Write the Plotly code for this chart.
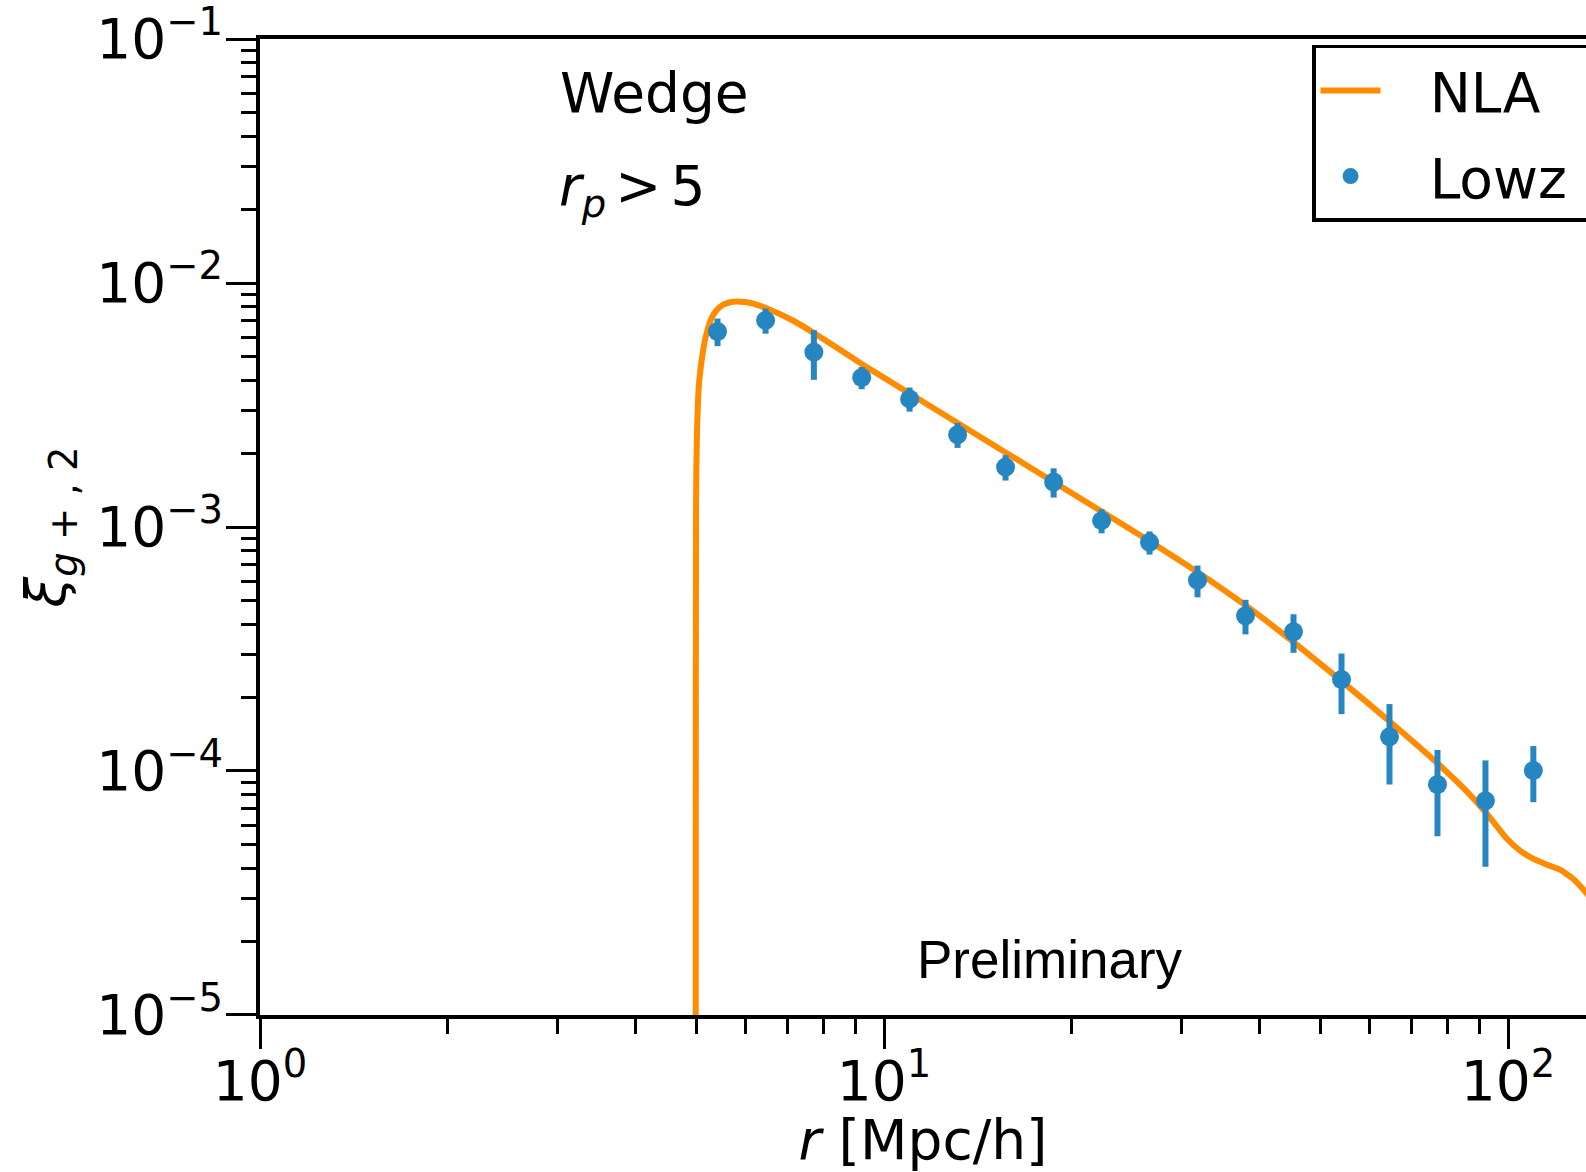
import plotly.graph_objects as go

# ---- data ----
nla_r = [4.992, 4.9938, 4.9975, 5.003, 5.0167, 5.0352, 5.0596, 5.1045, 5.148, 5.1996, 5.2632,
         5.3277, 5.4209, 5.5279, 5.6663, 5.8077, 5.9884, 6.1746, 6.567, 7.1558, 7.8012, 8.5031,
         9.1969, 11.009, 13.14, 15.688, 18.731, 22.361, 26.587, 31.738, 38.032, 45.224, 54.001,
         64.7, 76.929, 85.644, 92.204, 99.263, 104.53, 109.67, 115.48, 121.15, 127.1, 133.35, 140.4]
nla_xi = [5e-6, 1.96e-4, 1.071e-3, 1.717e-3, 2.505e-3, 3.323e-3, 4.016e-3, 4.849e-3, 5.587e-3,
          6.254e-3, 6.94e-3, 7.416e-3, 7.847e-3, 8.149e-3, 8.342e-3, 8.406e-3, 8.357e-3, 8.226e-3,
          7.774e-3, 7.006e-3, 6.138e-3, 5.328e-3, 4.669e-3, 3.517e-3, 2.663e-3, 2.016e-3, 1.526e-3,
          1.155e-3, 8.789e-4, 6.557e-4, 4.758e-4, 3.388e-4, 2.345e-4, 1.592e-4, 1.081e-4, 8.304e-5,
          6.746e-5, 5.327e-5, 4.714e-5, 4.37e-5, 4.13e-5, 3.939e-5, 3.618e-5, 3.171e-5, 2.651e-5]

lowz_r = [5.41, 6.46, 7.72, 9.21, 10.99, 13.12, 15.66, 18.70, 22.32, 26.64, 31.80, 37.96,
          45.32, 54.10, 64.58, 77.09, 92.02, 109.8]
lowz_xi = [6.33e-3, 7.03e-3, 5.21e-3, 4.10e-3, 3.35e-3, 2.39e-3, 1.76e-3, 1.53e-3, 1.062e-3,
           8.65e-4, 6.05e-4, 4.33e-4, 3.72e-4, 2.37e-4, 1.38e-4, 8.8e-5, 7.55e-5, 1.005e-4]
lowz_err = [8.2e-4, 8.3e-4, 1.2e-3, 4.3e-4, 3.8e-4, 2.8e-4, 2.1e-4, 2.1e-4, 1.2e-4,
            9.4e-5, 9.0e-5, 7.0e-5, 6.7e-5, 6.6e-5, 5.0e-5, 3.4e-5, 3.5e-5, 2.6e-5]

x_tickvals = [1, 10, 100]
x_ticktext = ["10<sup>0</sup>", "10<sup>1</sup>", "10<sup>2</sup>"]
y_tickvals = [1e-5, 1e-4, 1e-3, 1e-2, 1e-1]
y_ticktext = ["10<sup>\u22125</sup>", "10<sup>\u22124</sup>", "10<sup>\u22123</sup>",
              "10<sup>\u22122</sup>", "10<sup>\u22121</sup>"]

ORANGE = "#ff8c00"
BLUE = "#2686c2"
FONT = "DejaVu Sans"
FS = 55
NB = "\u00a0"

fig = go.Figure()
fig.add_trace(go.Scatter(x=nla_r, y=nla_xi, mode="lines", name=NB * 2 + "\u2006NLA",
                         legendgroup="nla",
                         line=dict(color=ORANGE, width=6, shape="spline", smoothing=0.4)))
fig.add_trace(go.Scatter(x=lowz_r, y=lowz_xi, mode="markers", name=NB * 2 + "\u2006Lowz" + NB * 4,
                         legendgroup="lowz",
                         marker=dict(color=BLUE, size=19),
                         error_y=dict(type="data", array=lowz_err, color=BLUE,
                                      thickness=6, width=0)))

axis_common = dict(type="log", showline=True, linecolor="black", linewidth=4,
                   ticks="outside", ticklen=30, tickwidth=3, tickcolor="black",
                   showgrid=False, zeroline=False, ticklabeloverflow="allow",
                   tickfont=dict(family=FONT, size=FS, color="black"),
                   minor=dict(ticks="outside", ticklen=15, tickwidth=2.5,
                              tickcolor="black", dtick="D1", showgrid=False))

fig.update_xaxes(**axis_common, range=[0, 2.125], mirror=True,
                 tickmode="array", tickvals=x_tickvals, ticktext=x_ticktext,
                 ticklabelstandoff=-15,
                 title=dict(text="<i>r</i> [Mpc/h]", font=dict(family=FONT, size=FS, color="black"),
                            standoff=12))
fig.update_yaxes(**axis_common, range=[-5.0002, -0.9998],
                 tickmode="array", tickvals=y_tickvals, ticktext=y_ticktext,
                 ticklabelstandoff=-8,
                 title=dict(text="<i>\u03be</i><sub><i>g</i> + , 2</sub>",
                            font=dict(family=FONT, size=FS, color="black"), standoff=14))

fig.add_annotation(text="Wedge", xref="paper", yref="paper", x=0.2245, y=0.945,
                   xanchor="left", yanchor="middle", showarrow=False,
                   font=dict(family=FONT, size=FS, color="black"))
fig.add_annotation(text="<i>r</i><sub><i>p</i></sub>\u2006&gt;\u20065", xref="paper", yref="paper",
                   x=0.2240, y=0.8456, xanchor="left", yanchor="middle", showarrow=False,
                   font=dict(family=FONT, size=FS, color="black"))
fig.add_annotation(text="Preliminary", xref="paper", yref="paper", x=0.5961, y=0.0573,
                   xanchor="center", yanchor="middle", showarrow=False,
                   font=dict(family="Liberation Sans", size=53, color="black"))

fig.update_layout(
    width=1586, height=1172,
    margin=dict(l=260, r=0, t=39, b=157, autoexpand=False),
    paper_bgcolor="white", plot_bgcolor="white",
    showlegend=True,
    legend=dict(x=0.7934, y=0.994, xanchor="left", yanchor="top",
                bgcolor="white", bordercolor="black", borderwidth=3.5,
                tracegroupgap=11,
                font=dict(family=FONT, size=FS, color="black"), itemwidth=60),
)

fig.write_html("out.html")
